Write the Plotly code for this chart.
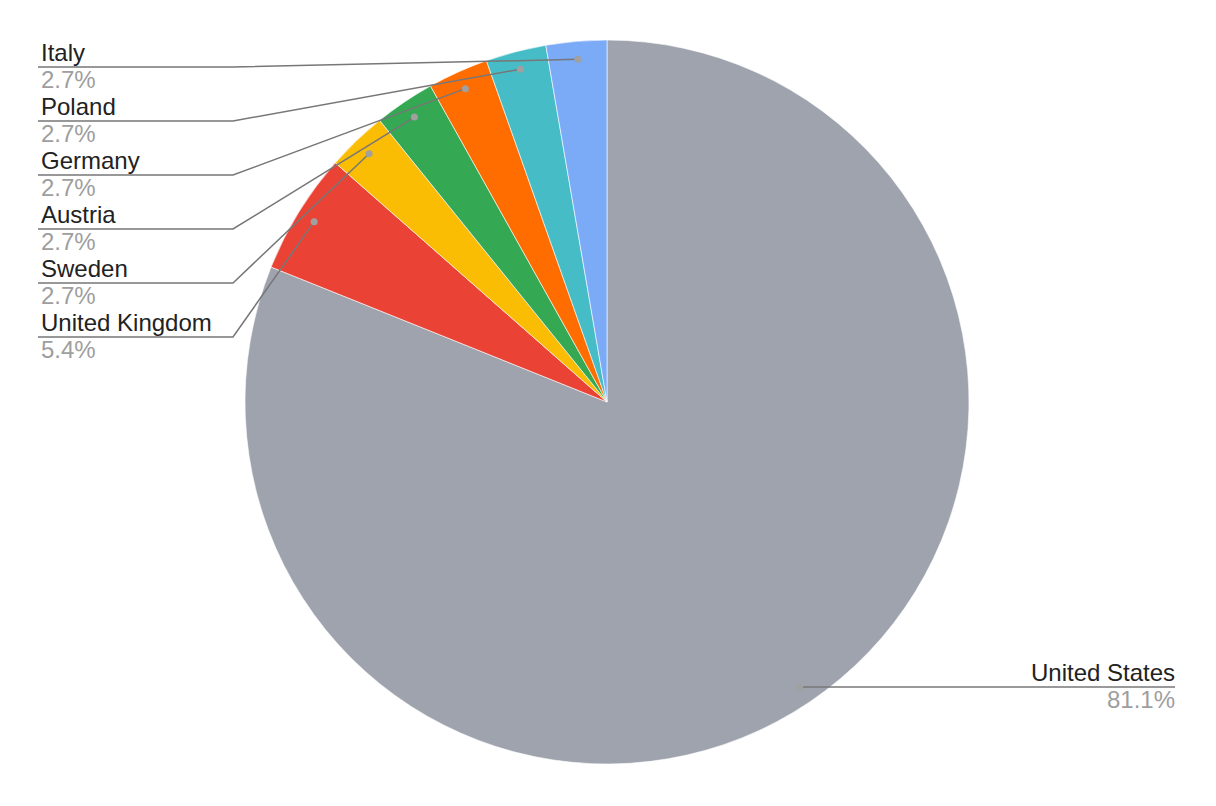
import math
import plotly.graph_objects as go

countries = ["United States", "United Kingdom", "Sweden", "Austria", "Germany", "Poland", "Italy"]
counts = [30, 2, 1, 1, 1, 1, 1]
colors = ["#9ea3ae", "#ea4335", "#fbbc04", "#34a853", "#ff6d01", "#46bdc6", "#7baaf7"]

OFF = 8  # page body margin
W, H = 1216 - OFF, 806 - OFF
CX, CY, R = 607 - OFF, 402 - OFF, 362
FONT = "Liberation Sans, Arial, sans-serif"
FS = 24


def px(x):
    return x / W


def py(y):
    return 1 - y / H


total = sum(counts)
pcts = [c / total * 100 for c in counts]

fig = go.Figure(go.Pie(
    labels=countries, values=counts, sort=False, direction="clockwise", rotation=0,
    marker=dict(colors=colors, line=dict(color="white", width=0.6)),
    textinfo="none", hoverinfo="label+percent", showlegend=False,
    domain=dict(x=[px(CX - R), px(CX + R)], y=[py(CY + R), py(CY - R)]),
))

shapes, annots = [], []
LINE_COL = "#777777"
DOT_COL = "#a0a0a0"

cum = 0
mids = []
for c in counts:
    a = (cum + c / 2) / total * 2 * math.pi
    mids.append(a)
    cum += c

left = [i for i, a in enumerate(mids) if a > math.pi]
left_sorted = sorted(left, key=lambda i: -mids[i])  # top to bottom
LX0, LX1, LY0, STEP = 38 - OFF, 233 - OFF, 67 - OFF, 54
RX1 = 1175 - OFF

for i, a in enumerate(mids):
    dx = CX + 0.95 * R * math.sin(a)
    dy = CY - 0.95 * R * math.cos(a)
    label = countries[i]
    pct = f"{pcts[i]:.1f}%"
    if i in left_sorted:
        k = left_sorted.index(i)
        ly = LY0 + k * STEP
        path = f"M {px(dx)},{py(dy)} L {px(LX1)},{py(ly)} L {px(LX0)},{py(ly)}"
        xa, xanchor, xs = px(LX0), "left", 1
    else:
        ly = dy
        path = f"M {px(dx)},{py(dy)} L {px(RX1)},{py(ly)}"
        xa, xanchor, xs = px(RX1), "right", 2
    shapes.append(dict(type="path", path=path, xref="paper", yref="paper",
                       line=dict(color=LINE_COL, width=1.5), layer="above"))
    shapes.append(dict(type="circle", xref="paper", yref="paper",
                       xsizemode="pixel", ysizemode="pixel",
                       xanchor=px(dx), yanchor=py(dy), x0=-3.5, x1=3.5, y0=-3.5, y1=3.5,
                       fillcolor=DOT_COL, line=dict(width=0), layer="above"))
    annots.append(dict(x=xa, y=py(ly), xref="paper", yref="paper", text=label,
                       showarrow=False, xanchor=xanchor, yanchor="bottom", yshift=-1,
                       xshift=xs, font=dict(family=FONT, size=FS, color="#222222")))
    annots.append(dict(x=xa, y=py(ly), xref="paper", yref="paper", text=pct,
                       showarrow=False, xanchor=xanchor, yanchor="top", yshift=3,
                       xshift=xs, font=dict(family=FONT, size=FS, color="#9e9e9e")))

fig.update_layout(
    width=W, height=H, margin=dict(l=0, r=0, t=0, b=0),
    paper_bgcolor="white", plot_bgcolor="white",
    shapes=shapes, annotations=annots,
)
fig.write_html("out.html")
